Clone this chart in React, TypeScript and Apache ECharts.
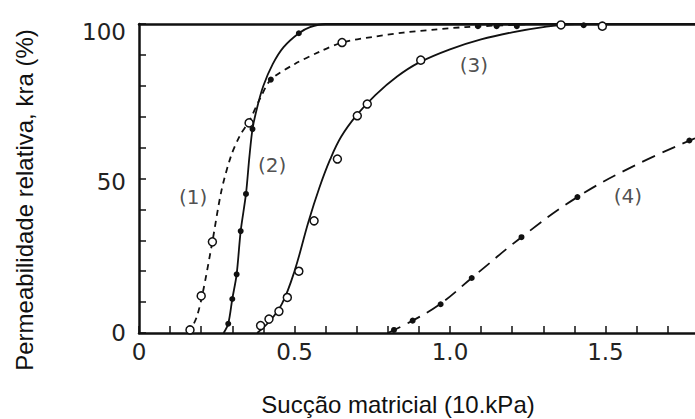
import React, { useEffect, useRef } from "react";
import * as echarts from "echarts";

// Axis ticks / labels
const xMax = 1.788;
const xLabelTicks = [0, 0.5, 1.0, 1.5];
const yLabelTicks = [0, 50, 100];
const xTitle = "Sucção matricial (10.kPa)";
const yTitle = "Permeabilidade relativa, kra (%)";

// Curve (1): dashed, open circles
const curve1Line = [
  [0.16, 0], [0.185, 5], [0.205, 13], [0.235, 29], [0.265, 46], [0.295, 57],
  [0.325, 64], [0.354, 68.5], [0.39, 76], [0.424, 82], [0.5, 87], [0.58, 91],
  [0.653, 94], [0.75, 95.8], [0.85, 97.2], [0.95, 98.2], [1.05, 99], [1.15, 99.5],
  [1.3, 100], [1.788, 100],
];
const curve1Open = [[0.164, 1], [0.2, 12], [0.236, 29.5], [0.354, 68], [0.653, 94]];
const curve1Filled = [[0.424, 82]];

// Curve (2): solid, filled dots
const curve2Line = [
  [0.272, 0], [0.287, 3], [0.3, 11], [0.314, 19], [0.327, 33], [0.344, 45],
  [0.355, 57], [0.365, 66], [0.38, 73], [0.4, 80], [0.43, 87], [0.465, 92.5],
  [0.514, 97], [0.55, 99], [0.6, 100], [1.788, 100],
];
const curve2Filled = [
  [0.287, 3], [0.3, 11], [0.314, 19], [0.327, 33], [0.344, 45], [0.365, 66],
  [0.514, 97], [1.09, 99.3], [1.15, 99.3], [1.215, 99.3], [1.43, 99.6],
];

// Curve (3): solid, open circles
const curve3Line = [
  [0.38, 0], [0.42, 3.8], [0.46, 9.5], [0.5, 20], [0.545, 36], [0.58, 47],
  [0.614, 56], [0.65, 63.5], [0.7, 70.5], [0.76, 77], [0.83, 83], [0.9, 87.5],
  [1.0, 91.8], [1.1, 95], [1.2, 97.3], [1.3, 99], [1.4, 100], [1.788, 100],
];
const curve3Open = [
  [0.391, 2.4], [0.418, 4.5], [0.45, 7], [0.477, 11.5], [0.514, 20], [0.563, 36.3],
  [0.638, 56.3], [0.702, 70.3], [0.734, 74.1], [0.906, 88.3], [1.357, 99.7], [1.49, 99.3],
];

// Curve (4): long dashes, filled dots
const curve4Line = [
  [0.8, 0], [0.88, 4], [0.97, 9.5], [1.07, 17.8], [1.23, 31], [1.41, 44],
  [1.6, 54.5], [1.788, 63],
];
const curve4Filled = [[0.82, 1], [0.88, 4], [0.97, 9.3], [1.07, 17.8], [1.23, 31], [1.41, 44], [1.77, 62.3]];

// Curve labels
const curveLabels = [
  [0.174, 44, "(1)"],
  [0.428, 54.4, "(2)"],
  [1.077, 86.7, "(3)"],
  [1.572, 44.3, "(4)"],
];

const INK = "#111";

const near = (v: number, arr: number[]) => arr.some((a) => Math.abs(a - v) < 1e-6);

export default function App() {
  const ref = useRef<HTMLDivElement>(null);

  useEffect(() => {
    document.body.style.margin = "0";
    if (!ref.current) return;
    const chart = echarts.init(ref.current, null, { renderer: "svg" });

    const lineSeries = (data: number[][], type: any, smooth: number) => ({
      type: "line",
      data,
      symbol: "none",
      showSymbol: false,
      smooth,
      clip: true,
      lineStyle: { color: INK, width: 1.8, type },
      z: 2,
      silent: true,
    });
    const openSeries = (data: number[][]) => ({
      type: "scatter",
      data,
      symbol: "circle",
      symbolSize: 8,
      itemStyle: { color: "#fff", borderColor: INK, borderWidth: 1.5, opacity: 1 },
      z: 4,
    });
    const filledSeries = (data: number[][]) => ({
      type: "scatter",
      data,
      symbol: "circle",
      symbolSize: 6,
      itemStyle: { color: INK, opacity: 1 },
      z: 4,
    });

    const tickFont = { color: "#222", fontFamily: "DejaVu Sans", fontSize: 23 };

    chart.setOption({
      animation: false,
      backgroundColor: "#fff",
      grid: { left: 139, right: 0, top: 24, bottom: 86, containLabel: false },
      xAxis: [
        {
          type: "value",
          min: 0,
          max: xMax,
          interval: 0.1,
          axisLine: { show: true, onZero: false, lineStyle: { color: INK, width: 2.5 } },
          axisTick: { show: true, inside: true, length: 7, lineStyle: { color: INK, width: 1.5 } },
          splitLine: { show: false },
          axisLabel: {
            margin: 7,
            showMaxLabel: false,
            ...tickFont,
            formatter: (v: number) => (near(v, xLabelTicks) ? (v === 0 ? "0" : v.toFixed(1)) : ""),
          },
        },
        {
          type: "value",
          position: "top",
          min: 0,
          max: xMax,
          axisLine: { show: true, onZero: false, lineStyle: { color: INK, width: 2.5 } },
          axisTick: { show: false },
          axisLabel: { show: false },
          splitLine: { show: false },
        },
      ],
      yAxis: {
        type: "value",
        min: 0,
        max: 100,
        interval: 10,
        axisLine: { show: true, onZero: false, lineStyle: { color: INK, width: 2.5 } },
        axisTick: { show: true, inside: true, length: 7, lineStyle: { color: INK, width: 1.5 } },
        splitLine: { show: false },
        axisLabel: {
          margin: 13,
          ...tickFont,
          formatter: (v: number) => {
            if (!near(v, yLabelTicks)) return "";
            if (v === 100) return "{top|100}";
            if (v === 50) return "{mid|50}";
            return String(v);
          },
          rich: {
            top: { ...tickFont, padding: [16, 0, 0, 0] },
            mid: { ...tickFont, padding: [6, 0, 0, 0] },
          },
        },
      },
      graphic: [
        {
          type: "text",
          x: 398,
          y: 404,
          silent: true,
          style: {
            text: xTitle,
            fontSize: 24,
            fontFamily: "Liberation Sans",
            fill: INK,
            align: "center",
            verticalAlign: "middle",
          },
        },
        {
          type: "text",
          x: 24,
          y: 200,
          rotation: Math.PI / 2,
          silent: true,
          style: {
            text: yTitle,
            fontSize: 24,
            fontFamily: "Liberation Sans",
            fill: INK,
            align: "center",
            verticalAlign: "middle",
          },
        },
      ],
      series: [
        lineSeries(curve1Line, [6, 5], 0.3),
        lineSeries(curve2Line, "solid", 0.3),
        lineSeries(curve3Line, "solid", 0.4),
        lineSeries(curve4Line, [14, 8], 0.4),
        openSeries(curve1Open),
        filledSeries(curve1Filled),
        filledSeries(curve2Filled),
        openSeries(curve3Open),
        filledSeries(curve4Filled),
        {
          type: "scatter",
          data: curveLabels,
          symbolSize: 0,
          silent: true,
          z: 5,
          label: {
            show: true,
            position: "inside",
            formatter: (p: any) => p.data[2],
            color: "#222",
            fontFamily: "DejaVu Sans",
            fontSize: 20,
          },
        },
      ],
    });

    return () => chart.dispose();
  }, []);

  return <div ref={ref} style={{ width: 695, height: 419 }} />;
}
